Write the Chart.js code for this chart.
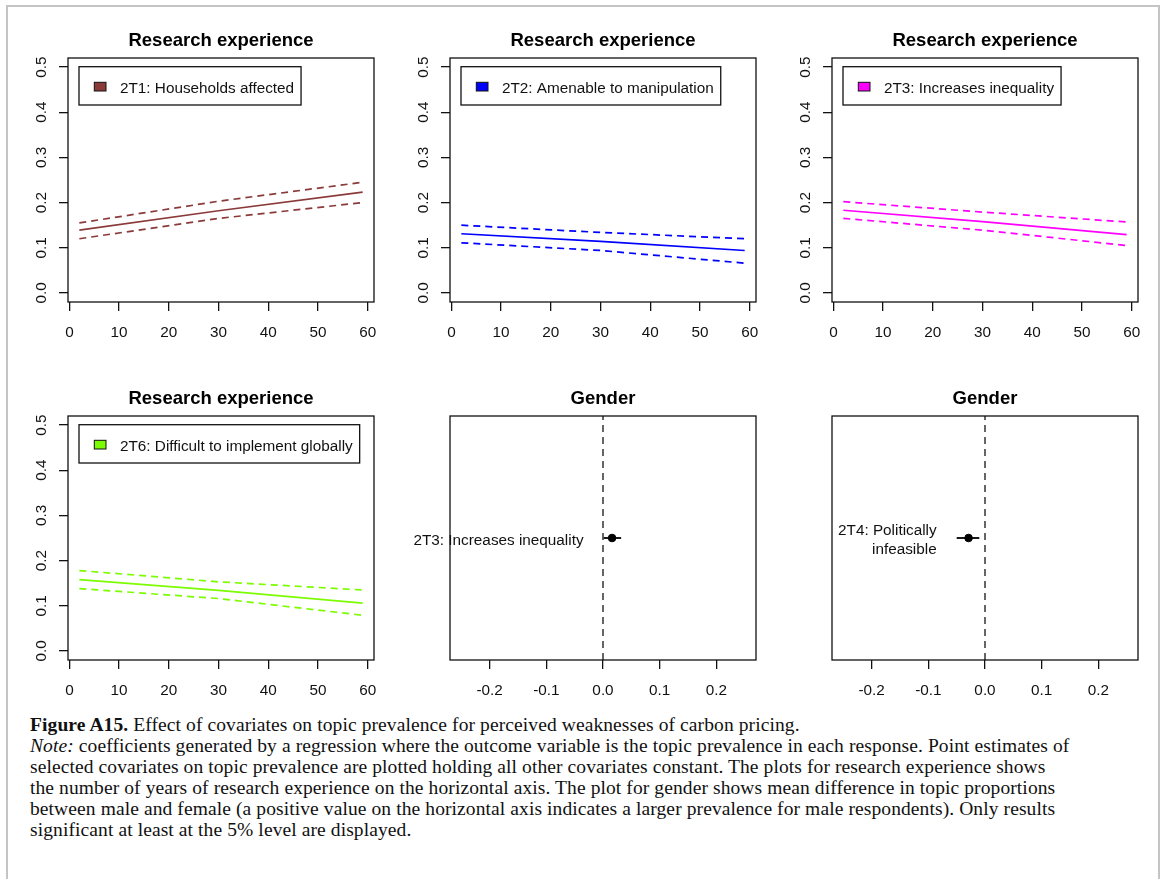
<!DOCTYPE html>
<html>
<head>
<meta charset="utf-8">
<script src="https://cdn.jsdelivr.net/npm/chart.js@4.4.1/dist/chart.umd.min.js"></script>
<style>
  body { margin: 0; background: #fff; width: 1167px; height: 879px; overflow: hidden; position: relative; }
  .frame { position: absolute; left: 6px; top: 5px; width: 1150px; height: 900px; border: 2px solid #c4c4c4; border-bottom: none; }
  canvas.panel { position: absolute; }
  .caption { position: absolute; left: 30px; top: 714px; font-family: "Liberation Serif", "Times New Roman", serif; font-size: 19.5px; letter-spacing: 0.1px; line-height: 21px; color: #111; }
  .caption div { white-space: nowrap; }
</style>
</head>
<body>
<div class="frame"></div>
<canvas id="p1" class="panel"></canvas>
<canvas id="p2" class="panel"></canvas>
<canvas id="p3" class="panel"></canvas>
<canvas id="p4" class="panel"></canvas>
<canvas id="p5" class="panel"></canvas>
<canvas id="p6" class="panel"></canvas>
<div class="caption">
  <div><b>Figure A15.</b> Effect of covariates on topic prevalence for perceived weaknesses of carbon pricing.</div>
  <div><i>Note:</i> coefficients generated by a regression where the outcome variable is the topic prevalence in each response. Point estimates of</div>
  <div>selected covariates on topic prevalence are plotted holding all other covariates constant. The plots for research experience shows</div>
  <div>the number of years of research experience on the horizontal axis. The plot for gender shows mean difference in topic proportions</div>
  <div>between male and female (a positive value on the horizontal axis indicates a larger prevalence for male respondents). Only results</div>
  <div>significant at least at the 5% level are displayed.</div>
</div>
<script>
// --- data ---
const expYears = [2, 30, 59];

const t1Label = '2T1: Households affected';
const t1Mean  = [0.139, 0.182, 0.223];
const t1Upper = [0.155, 0.203, 0.245];
const t1Lower = [0.120, 0.165, 0.200];

const t2Label = '2T2: Amenable to manipulation';
const t2Mean  = [0.131, 0.114, 0.094];
const t2Upper = [0.150, 0.134, 0.120];
const t2Lower = [0.111, 0.094, 0.066];

const t3Label = '2T3: Increases inequality';
const t3Mean  = [0.183, 0.158, 0.129];
const t3Upper = [0.202, 0.179, 0.157];
const t3Lower = [0.165, 0.139, 0.105];

const t6Label = '2T6: Difficult to implement globally';
const t6Mean  = [0.158, 0.134, 0.106];
const t6Upper = [0.178, 0.153, 0.135];
const t6Lower = [0.138, 0.116, 0.079];

const expXTicks = [0, 10, 20, 30, 40, 50, 60];
const expXTickLabels = ['0', '10', '20', '30', '40', '50', '60'];
const expYTicks = [0, 0.1, 0.2, 0.3, 0.4, 0.5];
const expYTickLabels = ['0.0', '0.1', '0.2', '0.3', '0.4', '0.5'];

const genderXTicks = [-0.2, -0.1, 0, 0.1, 0.2];
const genderXTickLabels = ['-0.2', '-0.1', '0.0', '0.1', '0.2'];

// gender effects: estimate and 95% interval
const g1Label = ['2T3: Increases inequality'];
const g1Est = 0.016, g1Lo = 0.001, g1Hi = 0.032;
const g2Label = ['2T4: Politically', 'infeasible'];
const g2Est = -0.029, g2Lo = -0.050, g2Hi = -0.010;

// --- layout ---
const FONT = '"Liberation Sans", Arial, Helvetica, sans-serif';
Chart.defaults.font.family = FONT;
Chart.defaults.font.size = 15.3;
Chart.defaults.color = '#111';

const colLeft = [68, 450, 832];
const rowTop = [58, 416];
const BOX_W = 306, BOX_H = 244;
const PAD_L = 62, PAD_T = 50, PAD_R = 40, PAD_B = 50;

function place(id, col, row) {
  const c = document.getElementById(id);
  c.width = BOX_W + PAD_L + PAD_R;
  c.height = BOX_H + PAD_T + PAD_B;
  c.style.left = (colLeft[col] - PAD_L) + 'px';
  c.style.top = (rowTop[row] - PAD_T) + 'px';
  return c;
}

// R-style decorations: box, title, rotated y labels, legend, point labels
const rStyle = {
  id: 'rStyle',
  afterDraw(chart, args, o) {
    const { ctx, chartArea: a, scales: { x, y } } = chart;
    ctx.save();
    ctx.strokeStyle = '#111';
    ctx.lineWidth = 1.3;
    ctx.strokeRect(a.left, a.top, a.right - a.left, a.bottom - a.top);

    ctx.fillStyle = '#000';
    ctx.font = 'bold 18.5px ' + FONT;
    ctx.textAlign = 'center';
    ctx.textBaseline = 'alphabetic';
    ctx.fillText(o.title, (a.left + a.right) / 2, a.top - 12.5);

    ctx.font = '15.3px ' + FONT;
    ctx.fillStyle = '#111';
    if (o.yLabels) {
      y.ticks.forEach((t, i) => {
        const py = y.getPixelForValue(t.value);
        ctx.save();
        ctx.translate(a.left - 22.5, py);
        ctx.rotate(-Math.PI / 2);
        ctx.textAlign = 'center';
        ctx.fillText(o.yLabels[i], 0, 0);
        ctx.restore();
      });
    }

    if (o.legend) {
      const tw = ctx.measureText(o.legend.text).width;
      const lx = a.left + 11, ly = a.top + 8.7;
      ctx.lineWidth = 1.3;
      ctx.strokeStyle = '#111';
      ctx.strokeRect(lx, ly, tw + 48, 38.3);
      ctx.fillStyle = o.legend.color;
      ctx.fillRect(lx + 15.3, ly + 15.6, 11.7, 8.7);
      ctx.lineWidth = 1;
      ctx.strokeRect(lx + 15.3, ly + 15.6, 11.7, 8.7);
      ctx.fillStyle = '#111';
      ctx.textAlign = 'left';
      ctx.fillText(o.legend.text, lx + 41, ly + 26);
    }

    if (o.pointLabel) {
      const px = x.getPixelForValue(o.pointLabel.lo) - 20;
      const py = y.getPixelForValue(o.pointLabel.y);
      const lines = o.pointLabel.lines;
      ctx.textAlign = 'right';
      lines.forEach((s, i) => {
        const off = (i - (lines.length - 1) / 2) * 18.6;
        ctx.fillText(s, px, py + off + 6.5);
      });
    }
    ctx.restore();
  }
};

function xScale(min, max, ticks, labels) {
  return {
    type: 'linear', min, max,
    afterFit: s => { s.height = PAD_B - 10; },
    afterBuildTicks: s => { s.ticks = ticks.map(v => ({ value: v })); },
    ticks: { callback: (v, i) => labels[i], padding: 13, maxRotation: 0, autoSkip: false, color: '#111' },
    grid: { drawOnChartArea: false, drawTicks: true, tickLength: 9, color: '#111', lineWidth: 1.3 },
    border: { display: false }
  };
}

function line(vals, color, dashed) {
  return {
    data: expYears.map((x, i) => ({ x, y: vals[i] })),
    showLine: true, borderColor: color, borderWidth: 1.7,
    borderDash: dashed ? [7, 5] : [], pointRadius: 0, tension: 0
  };
}

function expChart(id, col, row, label, color, mean, upper, lower) {
  new Chart(place(id, col, row), {
    type: 'scatter',
    data: { datasets: [line(mean, color, false), line(upper, color, true), line(lower, color, true)] },
    options: {
      responsive: false, animation: false,
      layout: { padding: { left: PAD_L - 50, top: PAD_T, right: PAD_R, bottom: 10 } },
      scales: {
        x: xScale(-0.28, 61.28, expXTicks, expXTickLabels),
        y: {
          type: 'linear', min: -0.02, max: 0.52,
          afterFit: s => { s.width = 50; },
          afterBuildTicks: s => { s.ticks = expYTicks.map(v => ({ value: v })); },
          ticks: { display: false },
          grid: { drawOnChartArea: false, drawTicks: true, tickLength: 9, color: '#111', lineWidth: 1.3 },
          border: { display: false }
        }
      },
      plugins: {
        legend: { display: false }, tooltip: { enabled: false },
        rStyle: { title: 'Research experience', yLabels: expYTickLabels, legend: { text: label, color } }
      }
    },
    plugins: [rStyle]
  });
}

function genderChart(id, col, row, labelLines, est, lo, hi) {
  new Chart(place(id, col, row), {
    type: 'scatter',
    data: {
      datasets: [
        { data: [{ x: 0, y: -0.08 }, { x: 0, y: 2.08 }], showLine: true, borderColor: '#333',
          borderWidth: 1.5, borderDash: [7, 5], pointRadius: 0 },
        { data: [{ x: lo, y: 1 }, { x: hi, y: 1 }], showLine: true, borderColor: '#000',
          borderWidth: 1.8, pointRadius: 0 },
        { data: [{ x: est, y: 1 }], pointRadius: 3.8, pointBackgroundColor: '#000', pointBorderColor: '#000' }
      ]
    },
    options: {
      responsive: false, animation: false,
      layout: { padding: { left: PAD_L - 50, top: PAD_T, right: PAD_R, bottom: 10 } },
      scales: {
        x: xScale(-0.27, 0.27, genderXTicks, genderXTickLabels),
        y: {
          type: 'linear', min: -0.08, max: 2.08,
          afterFit: s => { s.width = 50; },
          ticks: { display: false }, grid: { display: false }, border: { display: false }
        }
      },
      plugins: {
        legend: { display: false }, tooltip: { enabled: false },
        rStyle: { title: 'Gender', pointLabel: { lo, y: 1, lines: labelLines } }
      }
    },
    plugins: [rStyle]
  });
}

expChart('p1', 0, 0, t1Label, '#8B3A3A', t1Mean, t1Upper, t1Lower);
expChart('p2', 1, 0, t2Label, '#0000FF', t2Mean, t2Upper, t2Lower);
expChart('p3', 2, 0, t3Label, '#FF00FF', t3Mean, t3Upper, t3Lower);
expChart('p4', 0, 1, t6Label, '#7CFC00', t6Mean, t6Upper, t6Lower);
genderChart('p5', 1, 1, g1Label, g1Est, g1Lo, g1Hi);
genderChart('p6', 2, 1, g2Label, g2Est, g2Lo, g2Hi);
</script>
</body>
</html>
